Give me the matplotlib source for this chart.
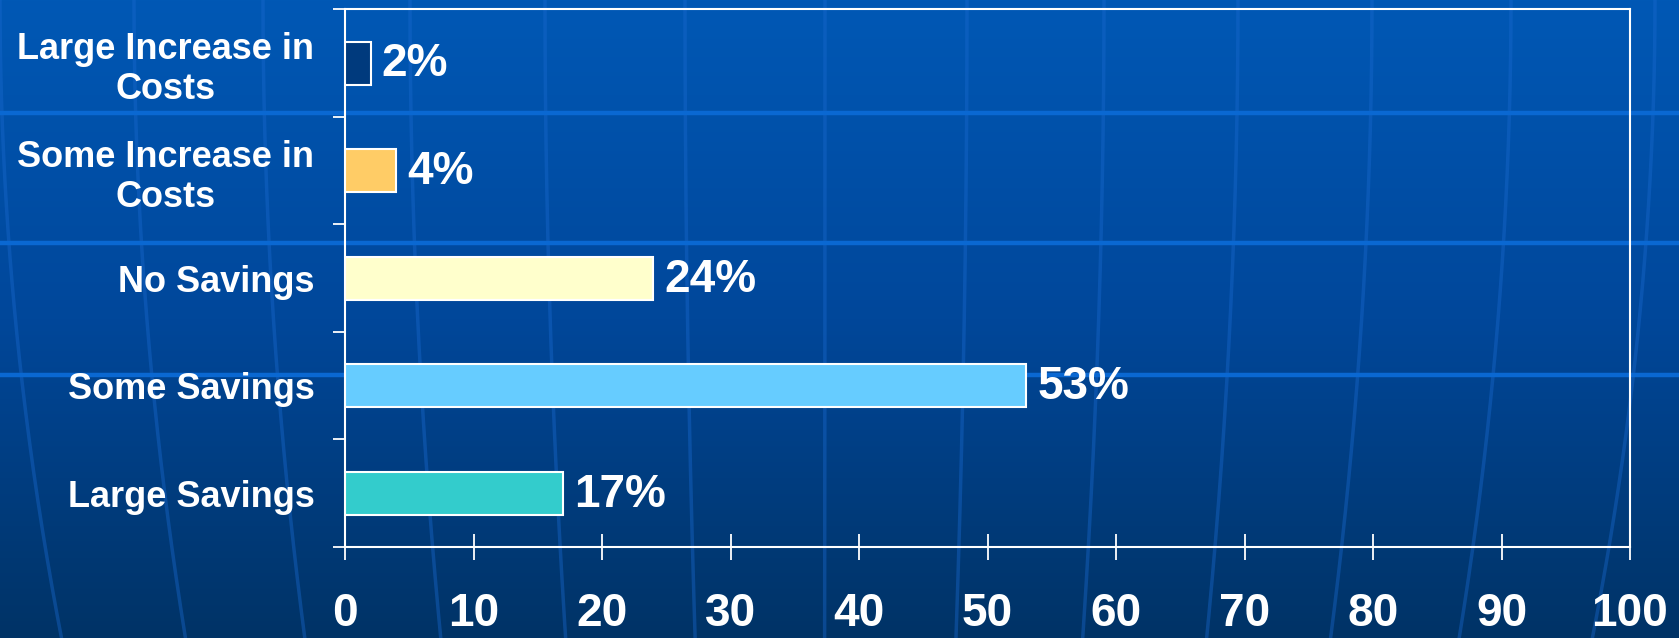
import numpy as np
import matplotlib.pyplot as plt
from matplotlib.colors import LinearSegmentedColormap

plt.rcParams['font.family'] = ['Liberation Sans', 'DejaVu Sans']
plt.rcParams['font.weight'] = 'bold'

# data (top to bottom as shown)
categories = ['Large Increase in\nCosts', 'Some Increase in\nCosts', 'No Savings',
              'Some Savings', 'Large Savings']
values = [2, 4, 24, 53, 17]
bar_colors = ['#003A7D', '#FFCC66', '#FFFFCC', '#66CCFF', '#33CCCC']
x_ticks = [0, 10, 20, 30, 40, 50, 60, 70, 80, 90, 100]

W, H = 1679, 638
fig = plt.figure(figsize=(W / 100, H / 100), dpi=100)

# ---- background: blue gradient, horizontal bands, faint meridians ----
bg = fig.add_axes([0, 0, 1, 1], zorder=-10)
grad_cmap = LinearSegmentedColormap.from_list('bg', ['#0058B5', '#00479A', '#003366'])
grad = np.linspace(0, 1, 256).reshape(-1, 1)
bg.imshow(grad, cmap=grad_cmap, aspect='auto', extent=(0, W, H, 0))
yy = np.linspace(0, H, 200)
for xt in [0, 134, 263, 410, 545, 685, 825, 967, 1104, 1238, 1372, 1511, 1655]:
    shift = -0.075 * (xt - 820)
    bg.plot(xt + shift * (yy / H) ** 2, yy, color='#1A6AD0', alpha=0.4, lw=2.5)
for yh in [113, 243, 375]:
    bg.axhline(yh, color='#0A68D2', lw=3.2)
bg.set_xlim(0, W)
bg.set_ylim(H, 0)
bg.axis('off')

# ---- chart ----
ax = fig.add_axes([345 / W, (H - 547) / H, (1630 - 345) / W, (547 - 9.3) / H])
ax.set_facecolor('none')
pos = np.arange(len(categories))
ax.barh(pos, values, height=0.4, color=bar_colors, edgecolor='white', linewidth=1.5, zorder=3)
for p, v in zip(pos, values):
    ax.annotate(f'{v}%', xy=(v, p), xytext=(8, -1), textcoords='offset points',
                ha='left', va='center', color='white', fontsize=33, fontweight='bold')

ax.set_xlim(0, 100)
ax.set_ylim(len(categories) - 0.5, -0.5)
ax.set_xticks(x_ticks)
ax.set_xticklabels([str(t) for t in x_ticks])
ax.tick_params(axis='x', direction='inout', length=19, width=1.3, color='white',
               labelcolor='white', labelsize=33, pad=23)

ax.set_yticks(pos)
ax.set_yticklabels(categories)
ax.set_yticks(np.arange(len(categories) + 1) - 0.5, minor=True)
ax.tick_params(axis='y', which='major', length=0, labelcolor='white', labelsize=26, pad=22)
ax.tick_params(axis='y', which='minor', direction='out', length=8.6, width=1.3, color='white')
for lab in ax.get_yticklabels():
    lab.set_multialignment('center')
    lab.set_fontweight('bold')
for lab in ax.get_xticklabels():
    lab.set_fontweight('bold')

for s in ax.spines.values():
    s.set_color('white')
    s.set_linewidth(1.5)

fig.savefig('out.png', dpi=100)
